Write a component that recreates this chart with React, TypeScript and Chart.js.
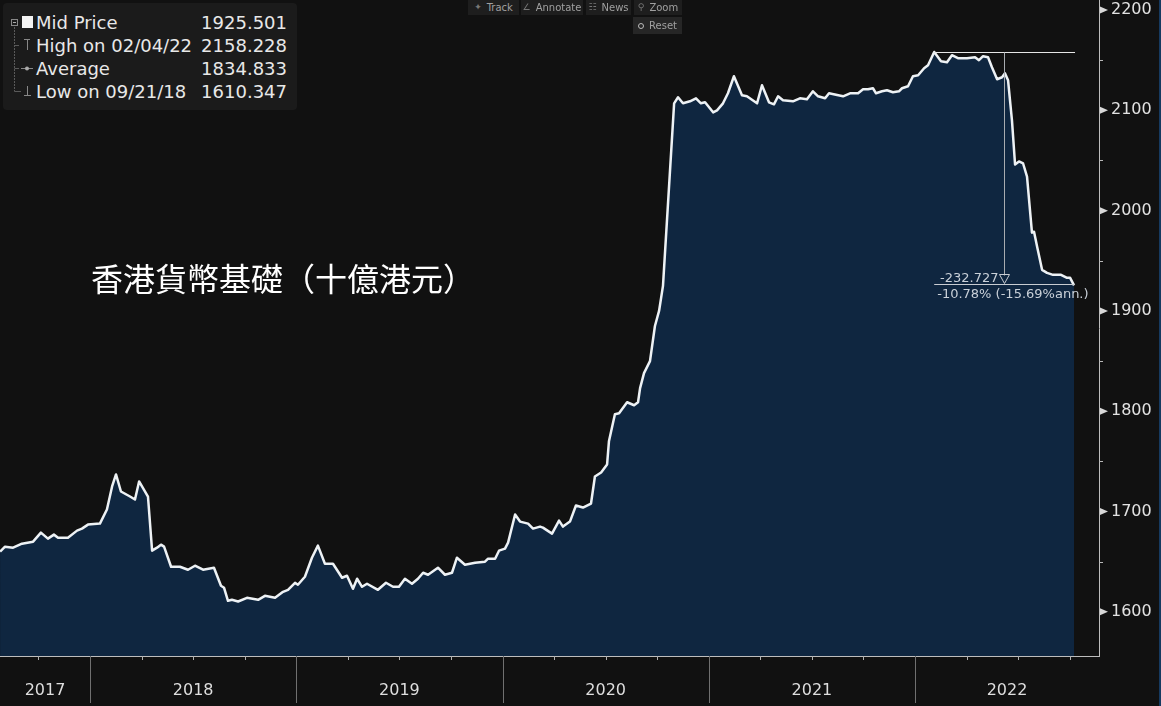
import React, { useEffect, useRef } from 'react';
import { Chart, registerables } from 'chart.js';
Chart.register(...registerables);

// ---- data (decimal years, weekly-ish readings) ----
const times = [
  2017.564, 2017.588, 2017.627, 2017.670, 2017.724, 2017.762, 2017.796, 2017.825, 2017.845, 2017.893,
  2017.937, 2017.961, 2017.990, 2018.048, 2018.082, 2018.107, 2018.126, 2018.150, 2018.194, 2018.218,
  2018.238, 2018.281, 2018.301, 2018.325, 2018.344, 2018.359, 2018.393, 2018.436, 2018.475, 2018.509,
  2018.548, 2018.601, 2018.635, 2018.650, 2018.669, 2018.688, 2018.718, 2018.761, 2018.815, 2018.848,
  2018.897, 2018.936, 2018.960, 2018.994, 2019.008, 2019.042, 2019.076, 2019.105, 2019.139, 2019.178,
  2019.222, 2019.246, 2019.275, 2019.295, 2019.319, 2019.343, 2019.396, 2019.435, 2019.469, 2019.498,
  2019.527, 2019.561, 2019.590, 2019.615, 2019.639, 2019.687, 2019.721, 2019.755, 2019.779, 2019.818,
  2019.867, 2019.915, 2019.930, 2019.964, 2019.983, 2020.012, 2020.027, 2020.061, 2020.085, 2020.124,
  2020.148, 2020.182, 2020.196, 2020.240, 2020.274, 2020.293, 2020.327, 2020.356, 2020.390, 2020.429,
  2020.448, 2020.478, 2020.507, 2020.516, 2020.531, 2020.545, 2020.565, 2020.604, 2020.638, 2020.657,
  2020.667, 2020.686, 2020.715, 2020.739, 2020.759, 2020.778, 2020.832, 2020.851, 2020.875, 2020.909,
  2020.938, 2020.962, 2020.982, 2021.021, 2021.040, 2021.069, 2021.093, 2021.122, 2021.161, 2021.185,
  2021.234, 2021.258, 2021.292, 2021.316, 2021.336, 2021.360, 2021.408, 2021.442, 2021.476, 2021.505,
  2021.530, 2021.564, 2021.583, 2021.651, 2021.685, 2021.724, 2021.748, 2021.772, 2021.796, 2021.811,
  2021.840, 2021.864, 2021.893, 2021.922, 2021.937, 2021.966, 2021.990, 2022.015, 2022.044, 2022.063,
  2022.093, 2022.126, 2022.155, 2022.179, 2022.208, 2022.252, 2022.291, 2022.310, 2022.330, 2022.354,
  2022.373, 2022.398, 2022.422, 2022.436, 2022.451, 2022.470, 2022.485, 2022.504, 2022.524, 2022.543,
  2022.567, 2022.577, 2022.592, 2022.616, 2022.640, 2022.669, 2022.708, 2022.737, 2022.752, 2022.771,
];
const values = [
  1660, 1665, 1664, 1668, 1670, 1679, 1673, 1677, 1674, 1674,
  1681, 1683, 1687, 1688, 1702, 1725, 1737, 1720, 1715, 1712,
  1730, 1715, 1661, 1664, 1667, 1665, 1645, 1645, 1642, 1646,
  1642, 1644, 1626, 1624, 1611, 1612, 1610.347, 1614, 1612, 1616,
  1614, 1620, 1622, 1629, 1627, 1635, 1654, 1666, 1648, 1648,
  1634, 1636, 1623, 1633, 1625, 1628, 1622, 1629, 1625, 1625,
  1633, 1628, 1633, 1639, 1637, 1644, 1637, 1639, 1654, 1647,
  1649, 1650, 1653, 1653, 1661, 1663, 1669, 1697, 1690, 1688,
  1683, 1685, 1684, 1678, 1691, 1685, 1690, 1706, 1704, 1708,
  1735, 1739, 1747, 1770, 1784, 1797, 1798, 1809, 1806, 1809,
  1823, 1838, 1850, 1885, 1900, 1925, 2107, 2113, 2107, 2109,
  2112, 2107, 2108, 2098, 2100, 2107, 2117, 2134, 2115, 2114,
  2107, 2125, 2108, 2106, 2114, 2110, 2109, 2112, 2111, 2119,
  2114, 2112, 2117, 2114, 2117, 2117, 2121, 2121, 2122, 2117,
  2119, 2120, 2118, 2119, 2122, 2124, 2134, 2135, 2142, 2145,
  2158.228, 2149, 2148, 2155, 2152, 2152, 2153, 2150, 2154, 2153,
  2143, 2131, 2133, 2137, 2130, 2090, 2046, 2049, 2047, 2034,
  1978, 1979, 1964, 1941, 1938, 1936, 1936, 1933, 1933, 1925.501,
];

const yTicks = [1600, 1700, 1800, 1900, 2000, 2100, 2200];
const yMinorTicks = [1650, 1750, 1850, 1950, 2050, 2150];
const yearLabels = [2017, 2018, 2019, 2020, 2021, 2022];
const yearStarts = [2018, 2019, 2020, 2021, 2022];
const quarterTicks = [
  2017.75, 2018.25, 2018.5, 2018.75, 2019.25, 2019.5, 2019.75, 2020.25, 2020.5, 2020.75,
  2021.25, 2021.5, 2021.75, 2022.25, 2022.5, 2022.75,
];

const legendLabels = ['Mid Price', 'High on 02/04/22', 'Average', 'Low on 09/21/18'];
const legendValues = ['1925.501', '2158.228', '1834.833', '1610.347'];
const toolbarItems = ['Track', 'Annotate', 'News', 'Zoom'];
const toolbarIcons = ['✦', '∠', '☷', '⚲'];
const resetLabel = 'Reset';
const titleText = '香港貨幣基礎（十億港元）';
const changeText = '-232.727';
const pctText = '-10.78% (-15.69%ann.)';

const X_MIN = 2017.5636;
const X_MAX = 2022.892;
const Y_MIN = 1556;
const Y_MAX = 2210;

const FONT = "'DejaVu Sans', sans-serif";

const overlayPlugin = {
  id: 'overlay',
  afterDraw(chart: any) {
    const { ctx, chartArea, scales } = chart;
    const xs = scales.x;
    const ys = scales.y;
    const bottom = chartArea.bottom;
    const right = chartArea.right;
    ctx.save();
    // x-axis year separators
    ctx.lineWidth = 1;
    ctx.strokeStyle = '#707070';
    yearStarts.forEach((t) => {
      const px = Math.round(xs.getPixelForValue(t)) + 0.5;
      ctx.beginPath();
      ctx.moveTo(px, bottom);
      ctx.lineTo(px, bottom + 47);
      ctx.stroke();
    });
    // quarter ticks
    ctx.strokeStyle = '#b0b0b0';
    quarterTicks.forEach((t) => {
      const px = Math.round(xs.getPixelForValue(t)) + 0.5;
      ctx.beginPath();
      ctx.moveTo(px, bottom);
      ctx.lineTo(px, bottom + 4);
      ctx.stroke();
    });
    // year labels centred on the visible part of each year
    ctx.fillStyle = '#dedede';
    ctx.font = `16px ${FONT}`;
    ctx.textAlign = 'center';
    ctx.textBaseline = 'middle';
    yearLabels.forEach((yr) => {
      const a = Math.max(yr, X_MIN);
      const b = Math.min(yr + 1, X_MAX);
      const px = (xs.getPixelForValue(a) + xs.getPixelForValue(b)) / 2;
      ctx.fillText(String(yr), px, bottom + 35);
    });
    // y-axis markers
    ctx.fillStyle = '#d8d8d8';
    yTicks.forEach((v) => {
      const py = ys.getPixelForValue(v);
      ctx.beginPath();
      ctx.moveTo(right + 1, py - 3.5);
      ctx.lineTo(right + 9, py);
      ctx.lineTo(right + 1, py + 3.5);
      ctx.closePath();
      ctx.fill();
    });
    ctx.strokeStyle = '#b8b8b8';
    yMinorTicks.forEach((v) => {
      const py = Math.round(ys.getPixelForValue(v)) + 0.5;
      ctx.beginPath();
      ctx.moveTo(right, py);
      ctx.lineTo(right + 4, py);
      ctx.stroke();
    });

    // high-to-last annotation
    let hi = 0;
    values.forEach((v, i) => { if (v > values[hi]) hi = i; });
    const last = values.length - 1;
    const xHi = xs.getPixelForValue(times[hi]);
    const xLast = xs.getPixelForValue(times[last]);
    const yHi = Math.round(ys.getPixelForValue(values[hi])) + 0.5;
    const yLast = Math.round(ys.getPixelForValue(values[last])) - 0.5;
    const xMid = Math.round(xs.getPixelForValue((times[hi] + times[last]) / 2)) + 0.5;
    ctx.strokeStyle = '#e6e6e6';
    ctx.beginPath();
    ctx.moveTo(xHi, yHi);
    ctx.lineTo(xLast + 1, yHi);
    ctx.stroke();
    ctx.strokeStyle = '#c8ccd2';
    ctx.beginPath();
    ctx.moveTo(xHi, yLast);
    ctx.lineTo(xLast + 1, yLast);
    ctx.stroke();
    ctx.strokeStyle = '#a8acb0';
    ctx.beginPath();
    ctx.moveTo(xMid, yHi);
    ctx.lineTo(xMid, yLast - 9);
    ctx.stroke();
    ctx.strokeStyle = '#c8ccd2';
    ctx.beginPath();
    ctx.moveTo(xMid - 5, yLast - 10);
    ctx.lineTo(xMid + 5, yLast - 10);
    ctx.lineTo(xMid, yLast - 1);
    ctx.closePath();
    ctx.stroke();
    ctx.fillStyle = '#c9d0d8';
    ctx.font = `13px ${FONT}`;
    ctx.textAlign = 'right';
    ctx.textBaseline = 'alphabetic';
    ctx.fillText(changeText, xMid - 6, yLast - 3);
    ctx.textAlign = 'left';
    ctx.fillText(pctText, xHi + 3, yLast + 13);
    ctx.restore();
  },
};

export default function App() {
  const ref = useRef<HTMLCanvasElement | null>(null);
  useEffect(() => {
    if (!ref.current) return;
    const chart = new Chart(ref.current, {
      type: 'line',
      data: {
        datasets: [
          {
            data: times.map((t, i) => ({ x: t, y: values[i] })),
            borderColor: '#eef2f5',
            borderWidth: 2.5,
            backgroundColor: '#0f2640',
            fill: 'start',
            pointRadius: 0,
            tension: 0,
            borderJoinStyle: 'round',
          },
        ],
      },
      options: {
        animation: false,
        responsive: false,
        layout: { padding: 0 },
        plugins: { legend: { display: false }, tooltip: { enabled: false } },
        scales: {
          x: {
            type: 'linear',
            min: X_MIN,
            max: X_MAX,
            grid: { display: false, drawTicks: false },
            ticks: { display: false },
            border: { display: true, color: '#bdbdbd', width: 1 },
            afterFit: (s: any) => {
              s.height = 50;
              s.paddingLeft = 0;
              s.paddingRight = 0;
            },
          },
          y: {
            type: 'linear',
            position: 'right',
            min: Y_MIN,
            max: Y_MAX,
            afterBuildTicks: (s: any) => { s.ticks = yTicks.map((v) => ({ value: v })); },
            grid: { display: false, drawTicks: false },
            border: { display: true, color: '#bdbdbd', width: 1 },
            ticks: {
              color: '#e2e2e2',
              font: { family: FONT, size: 16 },
              padding: 12,
              autoSkip: false,
              callback: (v: any) => String(v),
            },
            afterFit: (s: any) => {
              s.width = 62;
              s.paddingTop = 0;
              s.paddingBottom = 0;
            },
          },
        },
      },
      plugins: [overlayPlugin],
    } as any);
    return () => chart.destroy();
  }, []);

  const rowCenters = [22, 45, 68, 91];

  return (
    <div style={{ position: 'fixed', left: 0, top: 0, width: 1161, height: 706, background: '#111111', overflow: 'hidden' }}>
      <canvas ref={ref} width={1161} height={706} style={{ position: 'absolute', left: 0, top: 0, display: 'block' }} />
      <div style={{ position: 'absolute', left: 1159, top: 0, width: 2, height: 706, background: '#163a60' }} />
      {/* legend */}
      <div style={{ position: 'absolute', left: 3, top: 3, width: 294, height: 107, background: '#1b1b1b', borderRadius: 4 }} />
      <svg width={40} height={110} style={{ position: 'absolute', left: 0, top: 0 }}>
        <line x1={14.5} y1={27} x2={14.5} y2={91.5} stroke="#5a5a5a" strokeDasharray="2 1" />
        <line x1={14.5} y1={45.5} x2={19} y2={45.5} stroke="#5a5a5a" />
        <line x1={14.5} y1={68.5} x2={19} y2={68.5} stroke="#5a5a5a" />
        <line x1={14.5} y1={91.5} x2={21} y2={91.5} stroke="#5a5a5a" />
        <rect x={11.5} y={19.5} width={6} height={6} fill="#1b1b1b" stroke="#888" />
        <line x1={13} y1={22.5} x2={16} y2={22.5} stroke="#aaa" />
        <rect x={22} y={16} width={11} height={12} fill="#f2f2f2" />
        <line x1={24} y1={39.5} x2={30} y2={39.5} stroke="#888" />
        <line x1={27.5} y1={39.5} x2={27.5} y2={50} stroke="#888" />
        <line x1={21} y1={68.5} x2={33} y2={68.5} stroke="#888" />
        <circle cx={27} cy={68.5} r={2} fill="#aaa" />
        <line x1={27.5} y1={86} x2={27.5} y2={95.5} stroke="#888" />
        <line x1={24} y1={95.5} x2={31} y2={95.5} stroke="#888" />
      </svg>
      {legendLabels.map((lab, i) => (
        <div
          key={lab}
          style={{
            position: 'absolute', left: 36, top: rowCenters[i] - 11, width: 251, height: 24,
            lineHeight: '24px', display: 'flex', justifyContent: 'space-between',
            fontFamily: FONT, fontSize: 18, color: '#e8e8e8', whiteSpace: 'nowrap',
          }}
        >
          <span>{lab}</span>
          <span>{legendValues[i]}</span>
        </div>
      ))}
      {/* toolbar */}
      {toolbarItems.map((t, i) => {
        const lefts = [468, 521, 586, 634];
        const widths = [51, 62, 45, 48];
        return (
          <div
            key={t}
            style={{
              position: 'absolute', left: lefts[i], top: 0, width: widths[i], height: 15,
              background: '#1e1e1e', color: '#a0a0a0', fontFamily: FONT, fontSize: 10,
              lineHeight: '15px', display: 'flex', justifyContent: 'center', gap: 5, whiteSpace: 'nowrap',
            }}
          >
            <span style={{ color: '#777', fontSize: 9 }}>{toolbarIcons[i]}</span>
            <span>{t}</span>
          </div>
        );
      })}
      <div
        style={{
          position: 'absolute', left: 633, top: 17, width: 49, height: 17, background: '#262626',
          color: '#a0a0a0', fontFamily: FONT, fontSize: 10, lineHeight: '17px',
          display: 'flex', justifyContent: 'center', alignItems: 'center', gap: 5,
        }}
      >
        <span style={{ display: 'inline-block', width: 6, height: 6, borderRadius: 3, border: '1.5px solid #bbb', boxSizing: 'border-box' }} />
        <span>{resetLabel}</span>
      </div>
      {/* title */}
      <div
        style={{
          position: 'absolute', left: 91, top: 259, fontSize: 32, lineHeight: '36px',
          fontFamily: "'Noto Sans CJK TC', 'Noto Sans CJK SC', sans-serif", color: '#ffffff',
          whiteSpace: 'nowrap',
        }}
      >
        {titleText}
      </div>
    </div>
  );
}
